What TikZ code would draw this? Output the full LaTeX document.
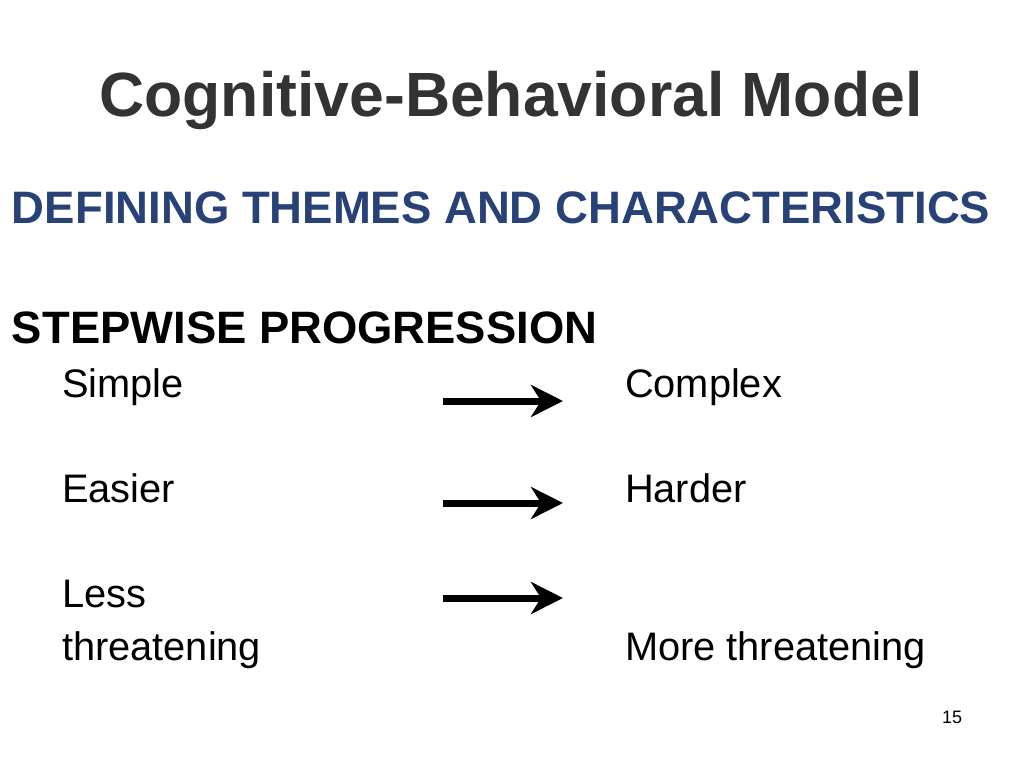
\documentclass[tikz,border=0pt]{standalone}
\usepackage{fontspec}
\setmainfont{Liberation Sans}
\usepackage[usenames]{xcolor}
\usetikzlibrary{arrows.meta}
\definecolor{titlegray}{RGB}{51,51,51}
\definecolor{themeblue}{RGB}{40,66,120}

\begin{document}
\begin{tikzpicture}[x=1pt,y=-1pt,>={Stealth[length=32pt,width=32pt,inset=10pt]}]
	\tikzstyle{every node}=[inner sep=0pt,outer sep=0pt,anchor=base west]
	\tikzstyle{title}=[font=\fontsize{62.5}{64}\selectfont\bfseries,text=titlegray,anchor=base]
	\tikzstyle{theme}=[font=\fontsize{45.5}{47}\selectfont\bfseries,text=themeblue]
	\tikzstyle{heading}=[font=\fontsize{45.4}{47}\selectfont\bfseries]
	\tikzstyle{item}=[font=\fontsize{39.8}{41}\selectfont]
	\tikzstyle{progress}=[->,line width=7pt]
	\useasboundingbox (0,0) rectangle (1024,768);
	\node[title] (title) at (511,116) {Cognitive-Behavioral Model};
	\node[theme] (theme) at (12,223) {DEFINING THEMES AND CHARACTERISTICS};
	\node[heading] (step) at (12,343) {STEPWISE PROGRESSION};
	\node[item] (simple) at (62,397) {Simple};
	\node[item] (complex) at (625,397) {Complex};
	\node[item] (easier) at (62,502) {Easier};
	\node[item] (harder) at (625,502) {Harder};
	\node[item] (less) at (62,607) {Less};
	\node[item] (threat) at (62,660) {threatening};
	\node[item] (more) at (625,660) {More threatening};
	\node[font=\fontsize{18}{20}\selectfont] (page) at (942,723) {15};
	\foreach \i/\y in {1/401,2/503,3/598} {
		\coordinate (s\i) at (443,\y);
		\coordinate (e\i) at (563,\y);
		\draw[progress] (s\i) -- (e\i);
	}
\end{tikzpicture}
\end{document}
